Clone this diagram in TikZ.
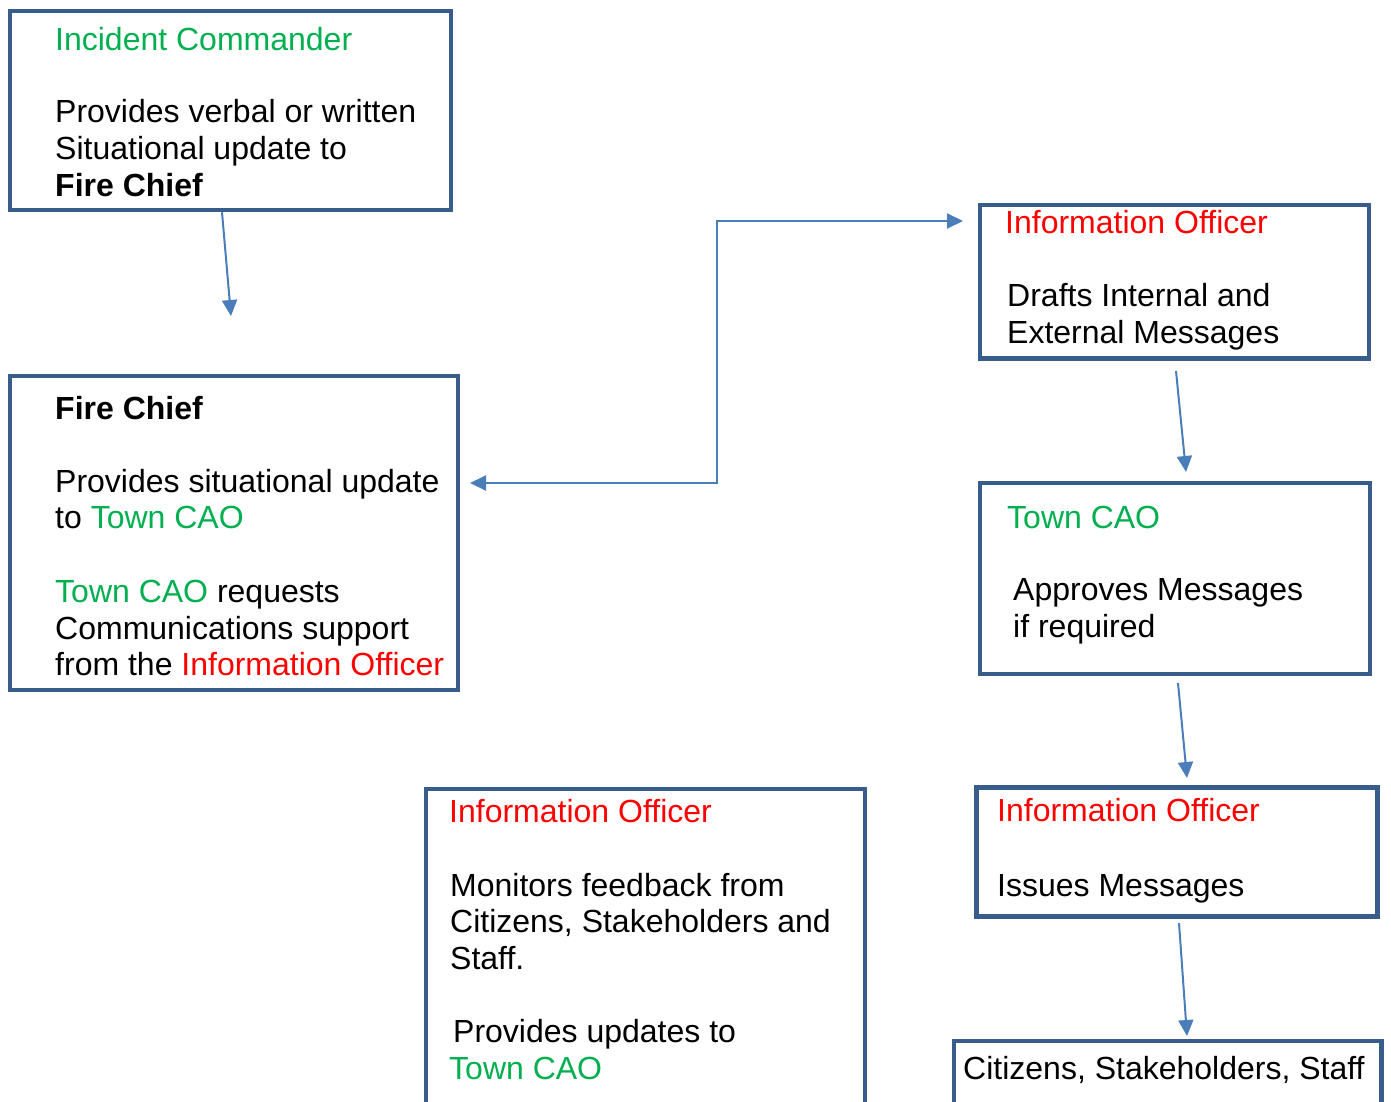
\documentclass[tikz,border=0pt]{standalone}
\usepackage{fontspec}
\setmainfont{Liberation Sans}
\usetikzlibrary{arrows.meta}
\definecolor{boxblue}{HTML}{385D8A}
\definecolor{arrowblue}{HTML}{4A7EBB}
\definecolor{cgreen}{HTML}{00B050}
\definecolor{cred}{HTML}{FF0000}
\tikzset{
  box/.style={draw=boxblue, line width=4.5pt, rectangle, inner sep=0pt},
  txt/.style={anchor=north west, inner sep=0pt, align=left, font=\fontsize{32}{36.7}\selectfont},
  flow/.style={draw=arrowblue, line width=2pt, -{Triangle[length=16pt,width=15pt]}},
  flowboth/.style={draw=arrowblue, line width=2pt, {Triangle[length=16pt,width=15pt]}-{Triangle[length=16pt,width=15pt]}}
}
\begin{document}
\begin{tikzpicture}[x=1pt,y=-1pt]
\useasboundingbox (0,0) rectangle (1391,1101);
\clip (0,0) rectangle (1391,1101);
\fill[white] (0,0) rectangle (1391,1101);
% Boxes
% Box 1: Incident Commander
\node[box, minimum width=441pt, minimum height=199pt] (icbox) at (230.5,110.5) {};
\node[txt] (ichead) at (55,24.3) {\strut\textcolor{cgreen}{Incident Commander}};
\node[txt] (icbody) at (55,97) {\strut Provides verbal or written\\Situational update to\\\textbf{Fire Chief}};
% Box 2: Fire Chief
\node[box, minimum width=448pt, minimum height=314pt] (fcbox) at (234,533) {};
\node[txt] (fchead) at (55,393.3) {\strut\textbf{Fire Chief}};
\node[txt] (fcbody) at (55,466.3) {\strut Provides situational update\\to \textcolor{cgreen}{Town CAO}\\[36.7pt]\textcolor{cgreen}{Town CAO} requests\\Communications support\\from the \textcolor{cred}{Information Officer}};
% Box 3: Information Officer, drafts
\node[box, minimum width=389pt, minimum height=153.5pt] (iobox) at (1174.5,281.75) {};
\node[txt] (iohead) at (1005,207.6) {\strut\textcolor{cred}{Information Officer}};
\node[txt] (iobody) at (1007,281) {\strut Drafts Internal and\\External Messages};
% Box 4: Town CAO
\node[box, minimum width=390pt, minimum height=191pt] (caobox) at (1175,578.5) {};
\node[txt] (caohead) at (1007,502.6) {\strut\textcolor{cgreen}{Town CAO}};
\node[txt] (caobody) at (1013,575) {\strut Approves Messages\\if required};
% Box 5: Information Officer, issues
\node[box, minimum width=401pt, minimum height=129pt] (issbox) at (1177,852) {};
\node[txt] (isshead) at (997,796) {\strut\textcolor{cred}{Information Officer}};
\node[txt] (issbody) at (997,870.3) {\strut Issues Messages};
% Box 6: Information Officer, monitors
\node[box, minimum width=439pt, minimum height=341pt] (monbox) at (645.5,959.5) {};
\node[txt] (monhead) at (449,796.3) {\strut\textcolor{cred}{Information Officer}};
\node[txt] (monbody) at (450,870.3) {\strut Monitors feedback from\\Citizens, Stakeholders and\\Staff.};
\node[txt] (monupd) at (453,1017) {\strut Provides updates to};
\node[txt] (moncao) at (449,1053.3) {\strut\textcolor{cgreen}{Town CAO}};
% Box 7: Citizens
\node[box, minimum width=427.5pt, minimum height=89pt] (pubbox) at (1167.7,1085.5) {};
\node[txt] (pubtext) at (963,1053.6) {\strut Citizens, Stakeholders, Staff};
% Arrows
\coordinate (a1tip) at (231,316);
\coordinate (a2left) at (470,483);
\coordinate (a2elbow) at (717,221);
\coordinate (a2right) at (963,221);
\coordinate (a3start) at (1176,371);
\coordinate (a3tip) at (1186,472);
\coordinate (a4start) at (1178,683);
\coordinate (a4tip) at (1187,778);
\coordinate (a5start) at (1179,923);
\coordinate (a5tip) at (1187,1036);
\draw[flow] ([xshift=-8.5pt]icbox.south) -- (a1tip);
\draw[flowboth] (a2left) -| (a2elbow) -- (a2right);
\draw[flow] (a3start) -- (a3tip);
\draw[flow] (a4start) -- (a4tip);
\draw[flow] (a5start) -- (a5tip);
\end{tikzpicture}
\end{document}
